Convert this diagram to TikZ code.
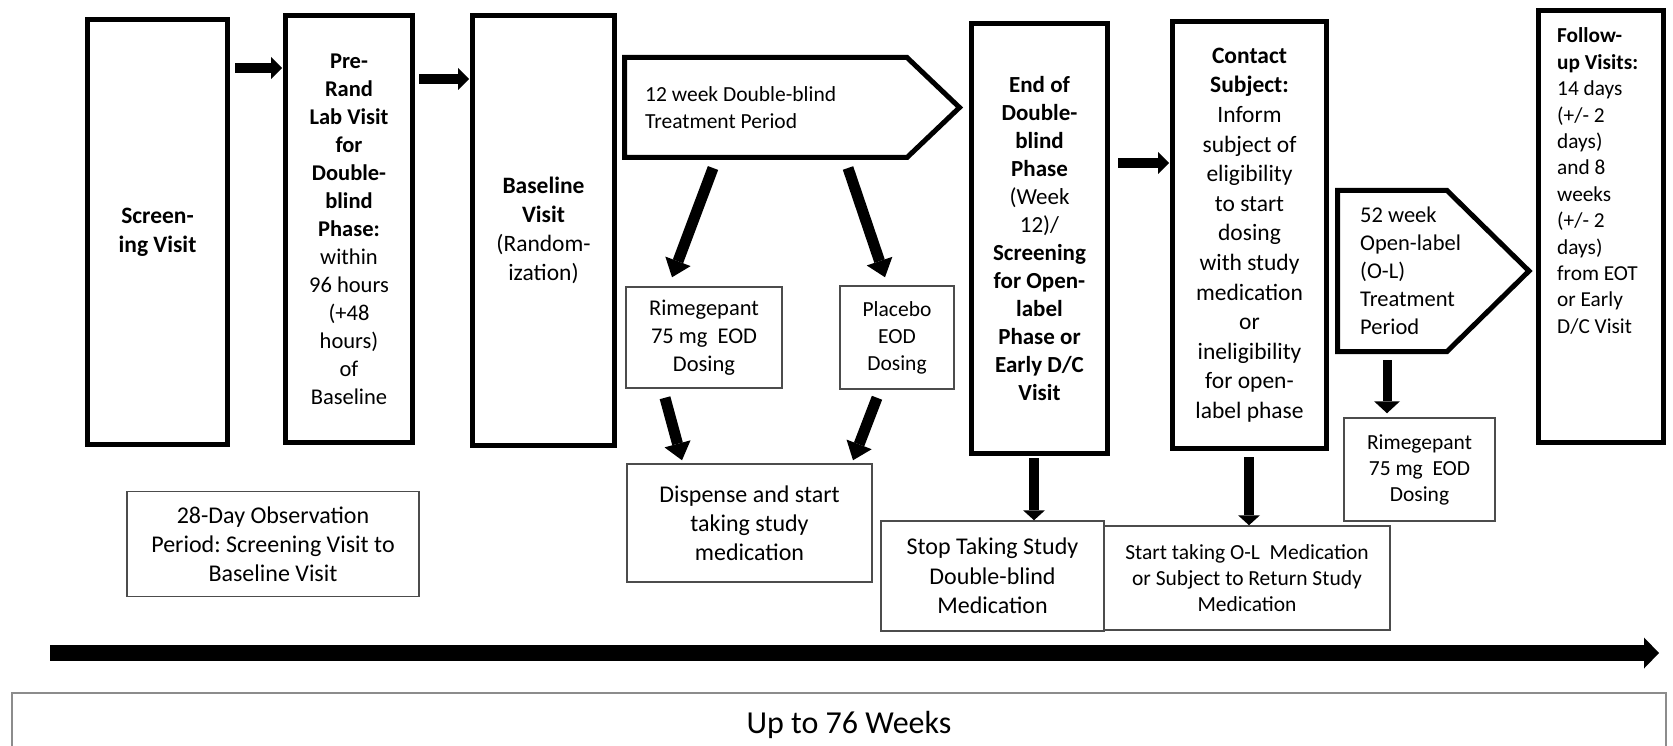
\documentclass[tikz,border=0pt]{standalone}
\usepackage{fontspec}
\setmainfont{Carlito}
\usetikzlibrary{arrows.meta}
\newcommand\myfs[2]{\fontsize{#1pt}{#2pt}\selectfont}
\frenchspacing
\begin{document}
\begin{tikzpicture}[x=1pt,y=-1pt,
  thickbox/.style={draw=black, line width=5pt, inner sep=0pt, align=center},
  thinbox/.style={draw=black!70, line width=1.5pt, inner sep=0pt, align=center},
  pentshape/.style={inner sep=0pt, outer sep=0pt},
  pentline/.style={draw=black, line width=5pt, line join=miter},
  pentext/.style={anchor=west, align=left, inner sep=0pt},
  harrow/.style={line width=10pt, -{Triangle[width=22pt,length=11pt,line width=0pt]}},
  darrow/.style={line width=11pt, -{Triangle[width=27pt,length=17pt,line width=0pt]}},
  varrow/.style={line width=10pt, -{Triangle[width=22pt,length=10pt,line width=0pt]}},
  vtarrow/.style={line width=9pt, -{Triangle[width=26pt,length=12pt,line width=0pt]}},
  tlarrow/.style={line width=16pt, -{Triangle[width=31pt,length=15pt,line width=0pt]}},
]
\useasboundingbox (0,0) rectangle (1673,746);

% top row of visit boxes
\node[thickbox, minimum width=140pt, minimum height=425pt, font=\myfs{23.5}{29}] (screen) at (157.5,232)
  {\textbf{Screen-}\\\textbf{ing Visit}};
\node[thickbox, minimum width=127pt, minimum height=427pt, font=\myfs{22.5}{28}] (pre) at (349,229)
  {\textbf{Pre-}\\\textbf{Rand}\\\textbf{Lab Visit}\\\textbf{for}\\\textbf{Double-}\\\textbf{blind}\\\textbf{Phase:}\\within\\96 hours\\(+48\\hours)\\of\\Baseline};
\node[thickbox, minimum width=142pt, minimum height=430pt, font=\myfs{23.5}{29}] (base) at (543.5,230.5)
  {\textbf{Baseline}\\\textbf{Visit}\\(Random-\\ization)};

% 12 week pentagon
\node[pentshape, minimum width=282.5pt, minimum height=100pt] (p12) at (765.75,107.5) {};
\draw[pentline] (p12.north west) -- (p12.north east) -- ([shift={(52.5,0)}]p12.east) -- (p12.south east) -- (p12.south west) -- cycle;
\node[pentext, font=\myfs{21.5}{27}] (p12t) at (645,108) {12 week Double-blind\\Treatment Period};

\node[thinbox, minimum width=156pt, minimum height=101pt, font=\myfs{22.5}{28}] (rime1) at (704,337.5)
  {Rimegepant\\75 mg~~EOD\\Dosing};
\node[thinbox, minimum width=114pt, minimum height=103pt, font=\myfs{21.5}{27}] (plac) at (897,337.5)
  {Placebo\\EOD\\Dosing};
\node[thinbox, minimum width=245pt, minimum height=118pt, font=\myfs{24}{29}] (disp) at (749.5,523)
  {Dispense and start\\taking study\\medication};
\node[thinbox, minimum width=292pt, minimum height=105pt, font=\myfs{24}{29}] (obs) at (273,544)
  {28-Day Observation\\Period: Screening Visit to\\Baseline Visit};

\node[thickbox, minimum width=136pt, minimum height=430pt, font=\myfs{23}{28}] (endb) at (1039.5,238.5)
  {\textbf{End of}\\\textbf{Double-}\\\textbf{blind}\\\textbf{Phase}\\(Week\\12)/\\\textbf{Screening}\\\textbf{for Open-}\\\textbf{label}\\\textbf{Phase or}\\\textbf{Early D/C}\\\textbf{Visit}};
\node[thickbox, minimum width=154pt, minimum height=427pt, font=\myfs{23.5}{29.6}] (contact) at (1249.5,235)
  {\textbf{Contact}\\\textbf{Subject:}\\Inform\\subject of\\eligibility\\to start\\dosing\\with study\\medication\\or\\ineligibility\\for open-\\label phase};

% 52 week pentagon
\node[pentshape, minimum width=109.5pt, minimum height=161pt] (p52) at (1392.25,271) {};
\draw[pentline] (p52.north west) -- (p52.north east) -- ([shift={(82,0)}]p52.east) -- (p52.south east) -- (p52.south west) -- cycle;
\node[pentext, font=\myfs{22.5}{28}] (p52t) at (1360,271) {52 week\\Open-label\\(O-L)\\Treatment\\Period};

\node[thinbox, minimum width=151pt, minimum height=103pt, font=\myfs{21.5}{26}] (rime2) at (1419.5,469.5)
  {Rimegepant\\75 mg~~EOD\\Dosing};

\node[thickbox, minimum width=125pt, minimum height=432pt] (fu) at (1601,226.5) {};
\node[pentext, font=\myfs{21.3}{26.4}] (fut) at (1557,181)
  {\textbf{Follow-}\\\textbf{up Visits:}\\14 days\\(+/- 2\\days)\\and 8\\weeks\\(+/- 2\\days)\\from EOT\\or Early\\D/C Visit};

\node[thinbox, minimum width=223pt, minimum height=110pt, font=\myfs{24}{29.5}] (stop) at (992.5,576)
  {Stop Taking Study\\Double-blind\\Medication};
\node[thinbox, minimum width=286pt, minimum height=104pt, font=\myfs{21.5}{26}] (start) at (1247,578)
  {Start taking O-L~~Medication\\or Subject to Return Study\\Medication};

% bottom band
\node[draw=black!45, line width=2pt, minimum width=1654pt, minimum height=100pt, inner sep=0pt] (wkbox) at (839,743) {};
\node[font=\myfs{32}{38}, inner sep=0pt, anchor=base] (wk) at (849,733) {Up to 76 Weeks};

% timeline
\coordinate (tl0) at (50,653);
\coordinate (tl1) at (1659,653);
\draw[tlarrow] (tl0) -- (tl1);

% connectors
\draw[harrow] ([shift={(5,51)}]screen.north east) -- ([shift={(-1,55)}]pre.north west);
\draw[harrow] ([shift={(4,66)}]pre.north east) -- ([shift={(-1,66)}]base.north west);
\draw[harrow] ([shift={(8,142)}]endb.north east) -- ([shift={(-1,144)}]contact.north west);

\draw[darrow] ([shift={(88.5,10.5)}]p12.south west) -- ([shift={(-32,-9)}]rime1.north);
\draw[darrow] ([shift={(223.5,10.5)}]p12.south west) -- ([shift={(-12,-8)}]plac.north);
\draw[darrow] ([shift={(-39,9)}]rime1.south) -- ([shift={(-67.5,-3)}]disp.north);
\draw[darrow] ([shift={(-20,8)}]plac.south) -- ([shift={(103.5,-3)}]disp.north);

\draw[varrow] ([shift={(-5.5,2)}]endb.south) -- ([shift={(41.5,0)}]stop.north);
\draw[varrow] ([shift={(-0.5,6)}]contact.south) -- ([shift={(2,0)}]start.north);
\draw[vtarrow] ([shift={(49.5,8.5)}]p52.south west) -- ([shift={(-32.5,-4)}]rime2.north);

\end{tikzpicture}
\end{document}
